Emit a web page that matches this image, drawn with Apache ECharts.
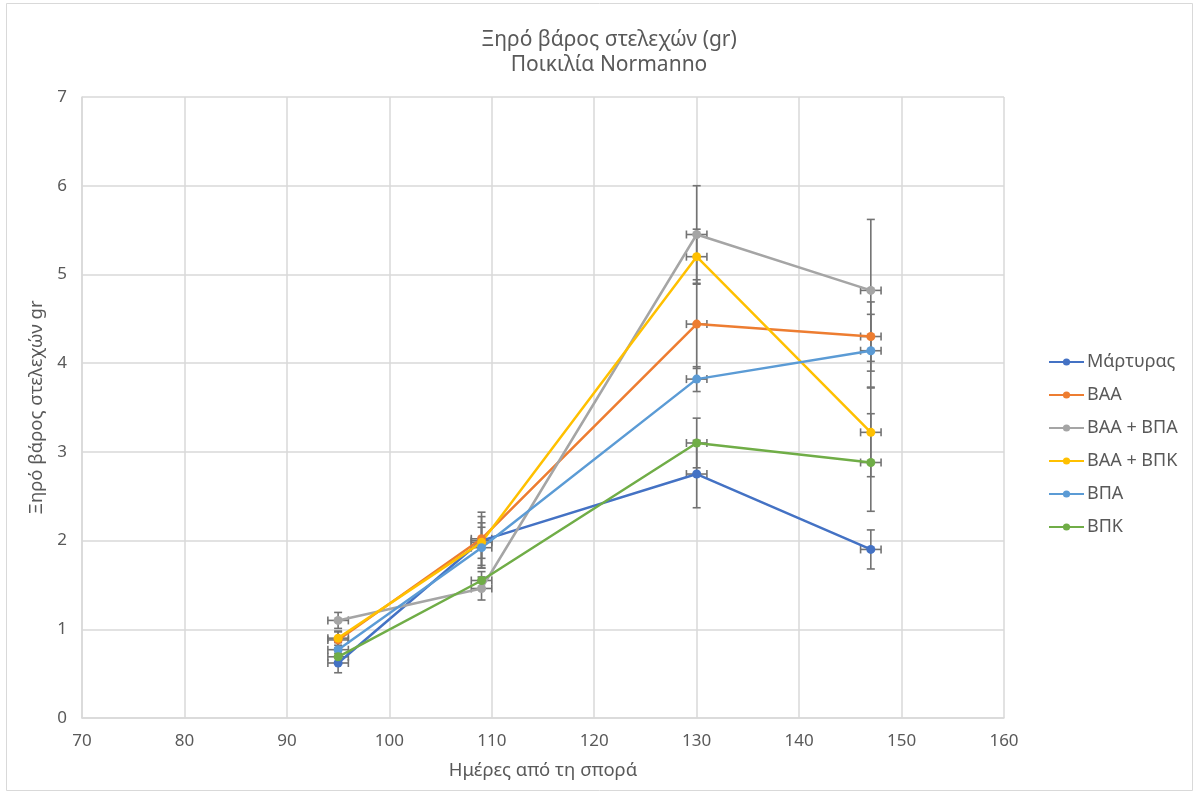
<!DOCTYPE html>
<html><head><meta charset="utf-8">
<script src="https://cdn.jsdelivr.net/npm/echarts@6/dist/echarts.min.js"></script>
<style>html,body{margin:0;padding:0;background:#fff}#c{width:1198px;height:796px}</style>
</head><body><div id="c"></div>
<script>
const days = [95, 109, 130, 147];
const dayErr = 1;
const seriesNames = ['Μάρτυρας', 'ΒΑΑ', 'ΒΑΑ + ΒΠΑ', 'ΒΑΑ + ΒΠΚ', 'ΒΠΑ', 'ΒΠΚ'];
const colors = ['#4472C4', '#ED7D31', '#A5A5A5', '#FFC000', '#5B9BD5', '#70AD47'];
const martyras = [0.62, 2.00, 2.75, 1.90];
const baa = [0.88, 2.02, 4.44, 4.30];
const baaBpa = [1.10, 1.46, 5.45, 4.82];
const baaBpk = [0.90, 1.98, 5.20, 3.22];
const bpa = [0.77, 1.92, 3.82, 4.14];
const bpk = [0.69, 1.55, 3.10, 2.88];
const errMartyras = [0.11, 0.20, 0.38, 0.22];
const errBaa = [0.09, 0.30, 0.50, 0.39];
const errBaaBpa = [0.09, 0.13, 0.55, 0.80];
const errBaaBpk = [0.08, 0.29, 0.31, 0.50];
const errBpa = [0.08, 0.23, 0.14, 0.41];
const errBpk = [0.08, 0.10, 0.28, 0.55];
const yTicks = [0, 1, 2, 3, 4, 5, 6, 7];
const xTicks = [70, 80, 90, 100, 110, 120, 130, 140, 150, 160];

const values = [martyras, baa, baaBpa, baaBpk, bpa, bpk];
const errs = [errMartyras, errBaa, errBaaBpa, errBaaBpk, errBpa, errBpk];
const FONT = 'Noto Sans';
const TXT = '#595959';
const ERRC = '#737373';

const series = [];
values.forEach((vals, i) => {
  series.push({
    name: seriesNames[i], type: 'line', z: 3,
    data: days.map((d, j) => [d, vals[j]]),
    symbol: 'circle', symbolSize: 9,
    lineStyle: { width: 2.5, color: colors[i] },
    itemStyle: { color: colors[i] },
    emphasis: { disabled: true }
  });
});
values.forEach((vals, i) => {
  series.push({
    type: 'custom', z: 2, silent: true,
    data: days.map((d, j) => [d, vals[j], errs[i][j], dayErr]),
    renderItem: function (params, api) {
      const x = api.value(0), y = api.value(1), e = api.value(2), h = api.value(3);
      const top = api.coord([x, y + e]), bot = api.coord([x, y - e]);
      const lft = api.coord([x - h, y]), rgt = api.coord([x + h, y]);
      const c = 4;
      const st = { stroke: ERRC, lineWidth: 1.6 };
      const L = (x1, y1, x2, y2) => ({ type: 'line', shape: { x1, y1, x2, y2 }, style: st });
      return { type: 'group', children: [
        L(top[0], top[1], bot[0], bot[1]),
        L(top[0] - c, top[1], top[0] + c, top[1]),
        L(bot[0] - c, bot[1], bot[0] + c, bot[1]),
        L(lft[0], lft[1], rgt[0], rgt[1]),
        L(lft[0], lft[1] - c, lft[0], lft[1] + c),
        L(rgt[0], rgt[1] - c, rgt[0], rgt[1] + c)
      ]};
    }
  });
});

const chart = echarts.init(document.getElementById('c'), null, { renderer: 'canvas' });
chart.setOption({
  animation: false,
  backgroundColor: '#fff',
  textStyle: { fontFamily: FONT },
  title: {
    text: 'Ξηρό βάρος στελεχών (gr)\nΠοικιλία Normanno',
    left: 604, top: 23, textAlign: 'center',
    textStyle: { fontFamily: FONT, fontSize: 21, fontWeight: 'normal', color: TXT, lineHeight: 25 }
  },
  graphic: [{
    type: 'rect', shape: { x: 6.5, y: 3.5, width: 1186, height: 787 },
    style: { fill: 'none', stroke: '#d9d9d9', lineWidth: 1 }, silent: true, z: -1
  }],
  legend: {
    orient: 'vertical', left: 1043, top: 348, itemGap: 15,
    itemWidth: 35, itemHeight: 9,
    data: seriesNames,
    textStyle: { fontFamily: FONT, fontSize: 18, color: TXT, padding: [0, 0, 0, -2] }
  },
  grid: { left: 82, right: 194, top: 97, bottom: 78 },
  xAxis: {
    type: 'value', min: xTicks[0], max: xTicks[xTicks.length - 1], interval: 10,
    name: 'Ημέρες από τη σπορά', nameLocation: 'middle', nameGap: 43,
    nameTextStyle: { fontFamily: FONT, fontSize: 18.5, color: TXT },
    axisLine: { show: true, lineStyle: { color: '#d9d9d9', width: 1.5 } },
    axisTick: { show: false },
    axisLabel: { fontFamily: FONT, fontSize: 17, color: TXT, margin: 15 },
    splitLine: { show: true, lineStyle: { color: '#d9d9d9', width: 1.5 } }
  },
  yAxis: {
    type: 'value', min: yTicks[0], max: yTicks[yTicks.length - 1], interval: 1,
    name: 'Ξηρό βάρος στελεχών gr', nameLocation: 'middle', nameGap: 32,
    nameTextStyle: { fontFamily: FONT, fontSize: 18.5, color: TXT },
    axisLine: { show: true, lineStyle: { color: '#d9d9d9', width: 1.5 } },
    axisTick: { show: false },
    axisLabel: { fontFamily: FONT, fontSize: 17, color: TXT, margin: 15 },
    splitLine: { show: true, lineStyle: { color: '#d9d9d9', width: 1.5 } }
  },
  series: series
});
</script></body></html>
